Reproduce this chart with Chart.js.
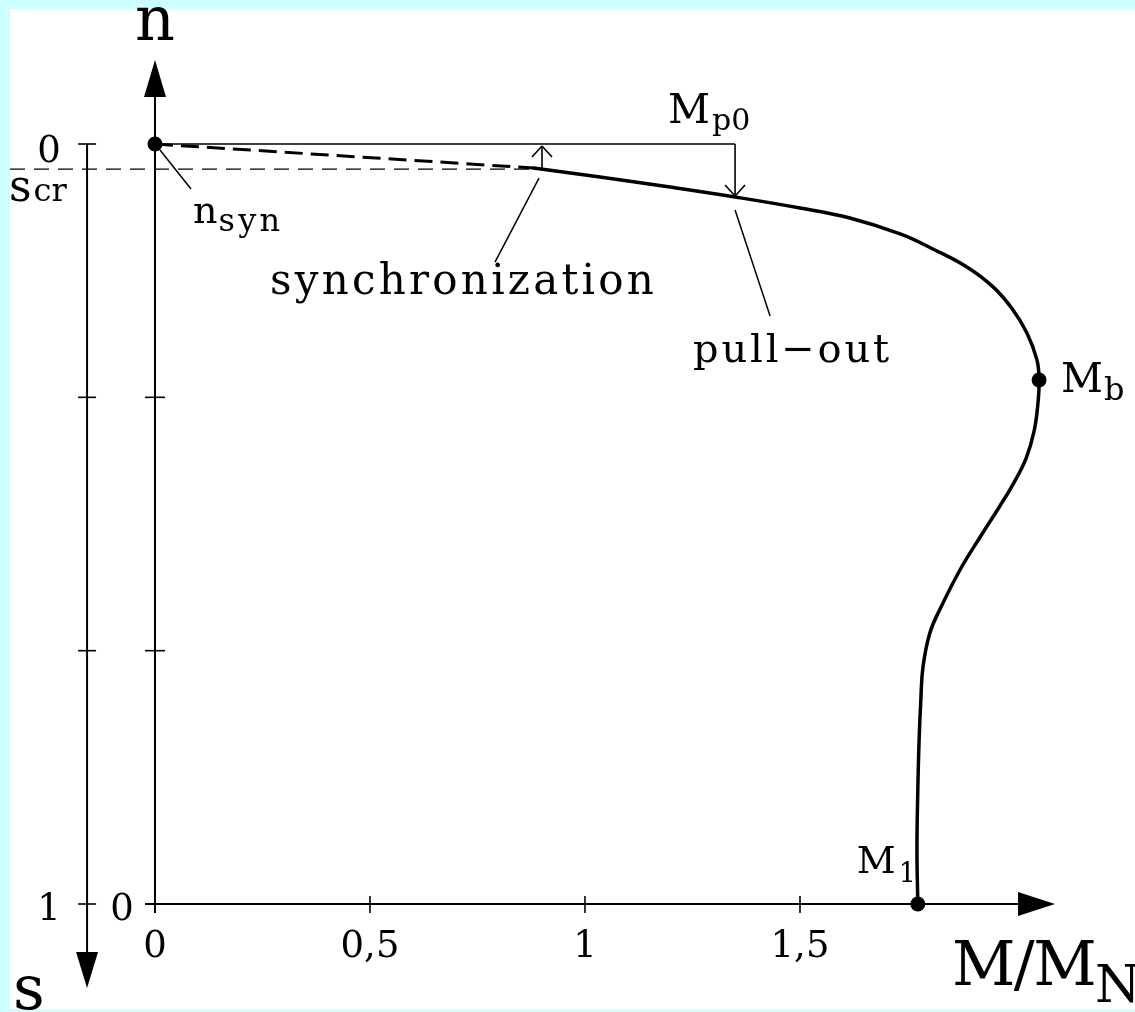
<!DOCTYPE html>
<html>
<head>
<meta charset="utf-8">
<script src="https://cdn.jsdelivr.net/npm/chart.js@4.4.1/dist/chart.umd.min.js"></script>
<style>
  html, body { margin: 0; padding: 0; background: #fff; }
  #wrap { width: 1135px; height: 1012px; position: relative; }
</style>
</head>
<body>
<div id="wrap"><canvas id="chart"></canvas></div>
<script>
// Torque-speed characteristic: torque ratio M/M_N against slip s (s = 0 at synchronous speed)
const curveTorque = [0.88, 1.035, 1.198, 1.349, 1.5, 1.616, 1.733, 1.809, 1.888, 1.949, 1.995, 2.028, 2.051, 2.056,
                     2.053, 2.044, 2.026, 1.997, 1.962, 1.919, 1.872, 1.828, 1.802, 1.786, 1.781, 1.777, 1.774, 1.772, 1.774];
const curveSlip   = [0.0316, 0.0434, 0.0566, 0.0697, 0.0842, 0.0974, 0.1184, 0.1382, 0.1618, 0.188, 0.218, 0.249, 0.284, 0.3105,
                     0.3434, 0.3789, 0.4132, 0.4461, 0.4789, 0.5171, 0.5605, 0.6092, 0.6434, 0.6882, 0.7316, 0.7842, 0.8500, 0.9289, 1.0];

// Synchronization branch (dashed) from n_syn to the synchronization point
const syncTorque = [0, 0.88];
const syncSlip   = [0, 0.0316];

// Marked points: n_syn, M_b (breakdown torque), M_1 (starting torque)
const markerNames  = ['nsyn', 'Mb', 'M1'];
const markerTorque = [0, 2.056, 1.774];
const markerSlip   = [0, 0.3105, 1.0];

// Critical slip and the M_p0 bracket (synchronization / pull-out)
const criticalSlip    = 0.033;
const syncPointTorque = 0.9;
const pullOutTorque   = 1.349;
const pullOutSlip     = 0.0697;

// Axis ticks
const xTicks      = [0, 0.5, 1, 1.5];
const xTickLabels = ['0', '0,5', '1', '1,5'];
const slipTicks   = [0, 1 / 3, 2 / 3, 1];
const slipTickLabels = ['0', '', '', '1'];

const FONT = '"DejaVu Serif", "Liberation Serif", serif';

function text(ctx, str, x, y, size, align, width) {
  ctx.font = size + 'px ' + FONT;
  ctx.textAlign = align || 'left';
  ctx.textBaseline = 'alphabetic';
  ctx.letterSpacing = '0px';
  if (width) {
    const w = ctx.measureText(str).width;
    const n = Array.from(str).length;
    ctx.letterSpacing = ((width - w) / n) + 'px';
  }
  ctx.fillText(str, x, y);
  const end = x + ctx.measureText(str).width;
  ctx.letterSpacing = '0px';
  return end;
}

function line(ctx, x1, y1, x2, y2) {
  ctx.beginPath();
  ctx.moveTo(x1, y1);
  ctx.lineTo(x2, y2);
  ctx.stroke();
}

function triangle(ctx, pts) {
  ctx.beginPath();
  ctx.moveTo(pts[0][0], pts[0][1]);
  ctx.lineTo(pts[1][0], pts[1][1]);
  ctx.lineTo(pts[2][0], pts[2][1]);
  ctx.closePath();
  ctx.fill();
}

const decorations = {
  id: 'decorations',
  beforeDraw(chart) {
    const { ctx, width, height } = chart;
    ctx.save();
    ctx.fillStyle = '#ccffff';
    ctx.fillRect(0, 0, width, height);
    ctx.fillStyle = '#ffffff';
    ctx.fillRect(10, 9, width - 10, height - 12);
    ctx.restore();
  },
  beforeDatasetsDraw(chart) {
    const { ctx } = chart;
    const X = v => chart.scales.x.getPixelForValue(v);
    const Y = v => chart.scales.y.getPixelForValue(v);
    const x0 = X(0), yTop = Y(0), yBot = Y(1);
    const sAxisX = X(-0.158);

    ctx.save();
    ctx.strokeStyle = '#000';
    ctx.fillStyle = '#000';
    ctx.lineCap = 'butt';

    // critical slip (thin dashed)
    ctx.lineWidth = 1.4;
    ctx.setLineDash([15, 9]);
    line(ctx, 10, Y(criticalSlip), X(syncPointTorque) - 8, Y(criticalSlip));
    ctx.setLineDash([]);

    // n axis
    ctx.lineWidth = 2;
    line(ctx, x0, yBot + 9, x0, Y(-0.062));
    triangle(ctx, [[x0, Y(-0.1105)], [x0 - 11, Y(-0.062)], [x0 + 11, Y(-0.062)]]);

    // M/M_N axis
    line(ctx, x0 - 10, yBot, X(2.007), yBot);
    triangle(ctx, [[X(2.093), yBot], [X(2.007), yBot - 12], [X(2.007), yBot + 12]]);

    // s axis
    line(ctx, sAxisX, yTop, sAxisX, Y(1.063));
    triangle(ctx, [[sAxisX, Y(1.1105)], [sAxisX - 11, Y(1.063)], [sAxisX + 11, Y(1.063)]]);

    // ticks
    ctx.lineWidth = 1.6;
    xTicks.forEach(v => { if (v !== 0) line(ctx, X(v), yBot - 8, X(v), yBot + 9); });
    slipTicks.forEach((v, i) => {
      line(ctx, sAxisX - 9, Y(v), sAxisX + 9, Y(v));
      if (i > 0 && i < slipTicks.length - 1) line(ctx, x0 - 10, Y(v), x0 + 10, Y(v));
    });

    // M_p0 bracket
    ctx.lineWidth = 1.6;
    const xs = X(syncPointTorque), xp = X(pullOutTorque);
    line(ctx, x0, yTop, xp, yTop);
    line(ctx, xs, yTop + 2, xs, Y(criticalSlip));
    line(ctx, xs - 10, yTop + 13, xs, yTop + 2);
    line(ctx, xs + 10, yTop + 13, xs, yTop + 2);
    line(ctx, xp, yTop, xp, Y(pullOutSlip) - 1);
    line(ctx, xp - 10, Y(pullOutSlip) - 12, xp, Y(pullOutSlip) - 1);
    line(ctx, xp + 10, Y(pullOutSlip) - 12, xp, Y(pullOutSlip) - 1);

    // leader lines
    ctx.lineWidth = 1.5;
    line(ctx, x0 + 5, yTop + 6, x0 + 36, yTop + 45);
    line(ctx, xs - 3, Y(criticalSlip) + 9, xs - 47, Y(criticalSlip) + 93);
    line(ctx, xp, Y(pullOutSlip) + 13, xp + 35, Y(pullOutSlip) + 119);
    ctx.restore();
  },
  afterDatasetsDraw(chart) {
    const { ctx } = chart;
    const X = v => chart.scales.x.getPixelForValue(v);
    const Y = v => chart.scales.y.getPixelForValue(v);
    const x0 = X(0), yBot = Y(1);
    const sAxisX = X(-0.158);
    ctx.save();
    ctx.fillStyle = '#000';

    // tick labels
    xTicks.forEach((v, i) => text(ctx, xTickLabels[i], X(v), yBot + 53, 37, 'center'));
    slipTickLabels.forEach((lab, i) => {
      if (lab) text(ctx, lab, sAxisX - 38, Y(slipTicks[i]) + (i === 0 ? 18 : 16), 37, 'center');
    });
    text(ctx, '0', x0 - 33, yBot + 16, 37, 'center');

    // axis titles
    text(ctx, 'n', x0, 40, 62, 'center');
    text(ctx, 's', 29, 1009, 62, 'center');
    let e = text(ctx, 'M/M', 952, 985, 62, 'left', 143);
    text(ctx, 'N', e, 1002, 52, 'left');

    // s_cr
    e = text(ctx, 's', 9, 201, 44, 'left');
    text(ctx, 'cr', e + 2, 201, 32, 'left');

    // point labels
    e = text(ctx, 'n', 193, 223, 38, 'left');
    text(ctx, 'syn', e + 1, 231, 32, 'left', 65);

    e = text(ctx, 'M', 668, 123, 41, 'left');
    text(ctx, 'p0', e + 2, 130, 30, 'left');

    const mbx = X(markerTorque[1]), mby = Y(markerSlip[1]);
    e = text(ctx, 'M', mbx + 22, mby + 12, 41, 'left');
    text(ctx, 'b', e + 1, mby + 20, 32, 'left');

    const m1x = X(markerTorque[2]);
    e = text(ctx, 'M', m1x - 61, yBot - 31, 38, 'left');
    text(ctx, '1', e + 3, yBot - 22, 27, 'left');

    text(ctx, 'synchronization', 270, 294, 42, 'left', 387);
    text(ctx, 'pull\u2212out', 693, 362, 40, 'left', 199);
    ctx.restore();
  }
};

const curvePoints  = curveTorque.map((x, i) => ({ x, y: curveSlip[i] }));
const syncPoints   = syncTorque.map((x, i) => ({ x, y: syncSlip[i] }));
const markerPoints = markerTorque.map((x, i) => ({ x, y: markerSlip[i], name: markerNames[i] }));

new Chart(document.getElementById('chart'), {
  type: 'scatter',
  data: {
    datasets: [
      { label: 'points', data: markerPoints, showLine: false, pointRadius: 7.5,
        pointBackgroundColor: '#000', pointBorderWidth: 0 },
      { label: 'characteristic', data: curvePoints, showLine: true, borderColor: '#000',
        borderWidth: 3.5, tension: 0.42, pointRadius: 0, borderCapStyle: 'round', borderJoinStyle: 'round' },
      { label: 'synchronization', data: syncPoints, showLine: true, borderColor: '#000',
        borderWidth: 3, borderDash: [18, 8], pointRadius: 0 }
    ]
  },
  options: {
    responsive: true,
    maintainAspectRatio: false,
    animation: false,
    events: [],
    layout: { padding: 0, autoPadding: false },
    plugins: { legend: { display: false }, tooltip: { enabled: false } },
    scales: {
      x: { type: 'linear', min: -155 / 430, max: 980 / 430, display: false },
      y: { type: 'linear', reverse: true, min: -144 / 760, max: 868 / 760, display: false }
    }
  },
  plugins: [decorations]
});
</script>
</body>
</html>
